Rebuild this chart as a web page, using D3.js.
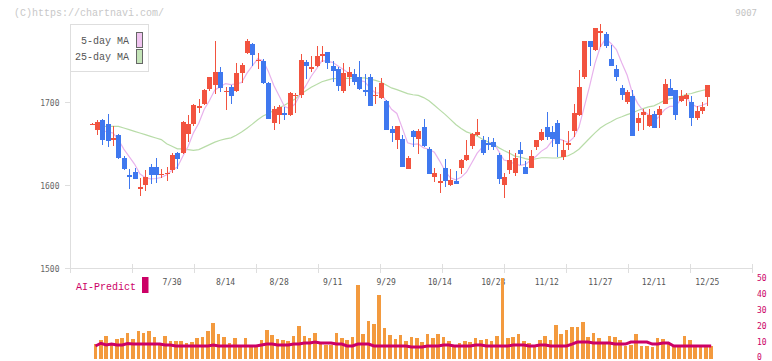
<!DOCTYPE html>
<html>
<head>
<meta charset="utf-8">
<script src="https://cdn.jsdelivr.net/npm/d3@7/dist/d3.min.js"></script>
<style>
  html, body { margin: 0; padding: 0; background: #fff; }
  svg { display: block; font-family: "Liberation Mono", "DejaVu Sans Mono", monospace; }
  .small { font-family: "DejaVu Sans Mono", monospace; font-size: 8px; }
</style>
</head>
<body>
<svg id="chart" width="772" height="361"></svg>
<script>
// daily candles, oldest first (label every 10th session from the end)
const tickLabels = ['7/30', '8/14', '8/28', '9/11', '9/29', '10/14', '10/28', '11/12', '11/27', '12/11', '12/25'];
const tickIndex = [15, 25, 35, 45, 55, 65, 75, 85, 95, 105, 115];

const open = [1673.5,1667,1679,1674,1655,1661,1633,1613,1616,1596,1600,1622,1622,1613,1614,1618,1639,1639,1662,1674,
  1694,1698,1716,1721,1737,1713,1718,1714,1735,1759,1770,1750,1750,1723,1675,1685,1687,1685,1708,1709,
  1748,1741,1744,1756,1761,1744,1740,1714,1731,1734,1731,1715,1730,1708,1705,1702,1668,1655,1656,1620,
  1665,1656,1670,1644,1610,1604,1621,1600,1605,1621,1631,1647,1661,1655,1651,1652,1637,1600,1618,1615,
  1642,1622,1621,1646,1655,1670,1664,1675,1634,1649,1665,1685,1730,1774,1763,1783,1782,1752,1740,1717,
  1700,1708,1675,1685,1671,1686,1685,1698,1717,1715,1702,1704,1700,1681,1690,1706];
const high = [1675,1679,1680,1686,1671,1662,1635,1620,1621,1609,1618,1626,1633,1620,1622,1639,1640,1677,1685,1698,
  1704,1716,1731,1774,1743,1718,1721,1747,1747,1776,1771,1760,1752,1725,1696,1697,1694,1713,1711,1758,
  1751,1756,1768,1768,1761,1750,1743,1747,1743,1740,1750,1734,1734,1719,1729,1703,1671,1672,1661,1635,
  1667,1668,1680,1646,1621,1614,1632,1620,1617,1632,1655,1663,1680,1659,1658,1657,1639,1615,1643,1639,
  1652,1629,1643,1655,1668,1688,1671,1679,1655,1666,1698,1739,1774,1774,1790,1794,1785,1769,1745,1721,
  1715,1715,1687,1692,1692,1690,1696,1728,1728,1715,1715,1711,1708,1696,1700,1721];
const low = [1673,1661,1649,1646,1647,1632,1619,1596,1607,1587,1593,1602,1603,1609,1605,1615,1620,1638,1652,1671,
  1687,1697,1714,1710,1712,1691,1698,1712,1723,1758,1744,1740,1722,1680,1667,1674,1679,1684,1687,1705,
  1728,1736,1743,1748,1740,1725,1714,1711,1720,1721,1715,1708,1696,1698,1704,1667,1652,1644,1622,1620,
  1646,1638,1646,1614,1604,1591,1598,1599,1602,1614,1629,1644,1659,1636,1643,1642,1602,1585,1614,1611,
  1625,1614,1621,1642,1653,1655,1646,1634,1630,1642,1658,1683,1728,1744,1762,1767,1765,1744,1726,1703,
  1698,1659,1666,1667,1670,1669,1669,1698,1708,1679,1700,1696,1672,1679,1686,1695];
const close = [1674,1676,1655,1653,1657,1633,1620,1610,1608,1598,1610,1613,1612,1614,1615,1637,1632,1676,1674,1697,
  1695,1715,1730,1737,1717,1714,1708,1735,1745,1774,1757,1751,1723,1680,1692,1694,1685,1711,1709,1751,
  1744,1742,1756,1758,1747,1738,1720,1735,1737,1724,1716,1712,1696,1709,1723,1667,1663,1671,1622,1633,
  1658,1665,1647,1614,1615,1605,1605,1606,1602,1630,1636,1662,1664,1639,1649,1646,1608,1610,1631,1633,
  1638,1614,1635,1655,1664,1658,1656,1650,1643,1651,1687,1718,1774,1767,1789,1786,1768,1744,1731,1709,
  1712,1659,1681,1688,1685,1669,1692,1722,1708,1685,1708,1709,1681,1690,1694,1721];

// moving averages as drawn (null where the line is not drawn)
const ma5 = [null,null,1666,1664,1663,1654.8,1643.6,1634.6,1625.6,1613.8,1609.2,1607.8,1608.2,1609.4,1612.8,1618.2,1622,1634.8,1646.8,1663.2,
  1674.8,1691.4,1702.2,1714.8,1718.8,1722.6,1721.2,1722.2,1723.8,1735.2,1743.8,1752.4,1750,1737,1720.6,1708,1694.8,1692.4,1698.2,1710,
  1720,1731.4,1740.4,1750.2,1749.4,1748.2,1743.8,1739.6,1735.4,1730.8,1726.4,1724.8,1717,1711.4,1711.2,1701.4,1691.6,1686.6,1669.2,1651.2,
  1649.4,1649.8,1645,1643.4,1639.8,1629.2,1617.2,1609,1606.6,1609.6,1615.8,1627.2,1638.8,1646.2,1650,1652,1641.2,1630.4,1628.8,1625.6,
  1624,1625.2,1630.2,1635,1641.2,1645.2,1653.6,1656.6,1654.2,1651.6,1657.4,1669.8,1694.6,1719.4,1747,1766.8,1776.8,1770.8,1763.6,1747.6,
  1732.8,1711,1698.4,1689.8,1685,1676.4,1683,1691.2,1695.2,1695.2,1703,1706.4,1698.2,1694.6,1696.4,1699];
const ma25 = [null,null,1671,1671,1671,1671,1669,1667,1665,1663,1661,1659,1657,1655,1650,1647,1644,1644,1643,1642,
  1643,1646,1649,1652,1654.3,1655.9,1657.2,1660.4,1664.1,1668.8,1673.7,1679,1683.5,1686.4,1690.1,1693.5,1696.4,1700.3,1704.1,1709.6,
  1713.8,1718.2,1721.4,1724.8,1726.8,1728.5,1728.7,1728.9,1728.9,1729.2,1729.3,1729.4,1727.9,1726.4,1724.4,1720.8,1717.3,1715.2,1712.9,1710.5,
  1709.1,1708.3,1705.7,1701.9,1696.5,1690.9,1685.4,1679.4,1673.2,1668.5,1664.4,1662.1,1659.3,1655.4,1652.4,1649.6,1645.4,1642,1638.8,1635.2,
  1634.1,1632.1,1630.7,1632,1633.2,1633.2,1632.9,1633,1634.2,1635.6,1638.9,1643.4,1650.1,1656.7,1663.1,1669.1,1673.3,1676.5,1680.2,1682.6,
  1685.2,1687.3,1690.1,1692.4,1694.5,1695.7,1698.8,1702.3,1704.4,1705.3,1707.3,1709.4,1710.6,1712.5,1714.2,1715.6];

// AI-Predict panel (right axis 0-50)
const aiBars = [9,11.5,14,9,12,12.8,15.9,12,17,15.9,17,13.4,9,14,10.9,10.9,10.9,9.7,10.3,12.8,
  13.4,17,22,15.3,13.4,9.7,12.8,8,12.8,8,8,11.5,17.8,14.6,12,11.5,10.9,14,20.3,14,
  12.8,15.9,9,8.4,8.4,15.9,12.8,11.5,13.4,45.8,15.3,23.4,21.5,39.8,19,14.6,12,14.6,10.9,13.4,
  12.8,10.3,15.3,12.8,15.3,13.4,10.9,8,9.7,10.9,10.3,12.8,11.5,12,10.9,14,50,12.8,13.4,15.3,
  10.9,9.7,8,11.5,14,11.5,20.9,15.3,17.8,19.7,19.7,22.8,13.4,15.9,12.8,10.3,14,13.4,11.5,8,
  8.4,15.3,8,8,7.2,12.8,12,10.3,8,8,14,11.5,8,8,8,8];
const aiLine = [7.8,9.5,8.4,9,8.4,8.4,9.3,9,9,9,9,9,9,8.4,8.4,7.8,7.8,7.8,7.8,7.8,
  7.8,7.8,8.4,7.8,7.8,7.8,7.8,7.8,7.8,7.8,7.8,8.4,9,9,8.4,8.4,8.4,9,9,9.7,
  9.7,10.3,9.7,9.7,9.7,9,9,7.8,7.8,9,9,9,7.8,7.8,7.8,7.8,7.8,7.8,7.8,7.2,
  7.2,7.2,7.8,7.8,7.8,8.4,8.4,7.8,7.8,7.8,7.8,8.4,8.4,7.8,7.8,7.8,7.8,7.8,8.4,8.4,
  8.4,7.8,7.8,8.4,8.4,7.8,7.8,7.8,7.8,9,10.3,10.3,10.3,9.7,9.7,9.7,9.7,9,9,9,
  10.3,10.3,10.3,10.3,9,9,9.7,9.7,7.8,7.8,7.8,7.8,7.8,7.8,7.8,7.8];
const aiTicks = [0, 10, 20, 30, 40, 50];
const priceTicks = [1500, 1600, 1700];

const UP = '#f2533f';
const DOWN = '#3f78ef';
const AXIS = '#dedede';
const MAGENTA = '#cc0066';

const svg = d3.select('#chart');
const n = close.length;
const idx = d3.range(n);

const x = d3.scaleLinear().domain([0, n - 1]).range([91.7, 707.4]);
const y = d3.scaleLinear().domain([1500, 1700]).range([268.3, 102.3]);
const yAi = d3.scaleLinear().domain([0, 50]).range([358.5, 278.3]);

// header texts
svg.append('text').attr('x', 14).attr('y', 16).attr('font-size', 10).attr('fill', '#c8c8c8')
  .text('(C)https://chartnavi.com/');
svg.append('text').attr('x', 757).attr('y', 15.5).attr('font-size', 9).attr('fill', '#c4c4c4')
  .style('font-family', '"DejaVu Sans Mono", monospace')
  .attr('text-anchor', 'end').text('9007');

// axes
const axisG = svg.append('g').attr('shape-rendering', 'crispEdges');
axisG.append('line').attr('x1', 70.5).attr('x2', 70.5).attr('y1', 24).attr('y2', 268.5)
  .attr('stroke', AXIS);
axisG.append('line').attr('x1', 70).attr('x2', 752.5).attr('y1', 268.5).attr('y2', 268.5)
  .attr('stroke', AXIS);
d3.range(70, 753, 62).forEach((tx) => {
  axisG.append('line').attr('x1', tx + 0.5).attr('x2', tx + 0.5).attr('y1', 264).attr('y2', 273)
    .attr('stroke', AXIS);
});
priceTicks.forEach((p) => {
  const ty = Math.round(y(p)) + 0.5;
  axisG.append('line').attr('x1', 65).attr('x2', 70).attr('y1', ty).attr('y2', ty).attr('stroke', AXIS);
  svg.append('text').attr('class', 'small').attr('x', 59.5).attr('y', ty + 3).attr('fill', '#666')
    .attr('text-anchor', 'end').text(p);
});

// date labels (drawn before the AI bars, which cover them)
tickLabels.forEach((label, k) => {
  svg.append('text').attr('class', 'small').attr('x', x(tickIndex[k])).attr('y', 285)
    .attr('fill', '#555').attr('text-anchor', 'middle').text(label);
});

// AI-Predict panel
svg.append('text').attr('x', 76).attr('y', 289.5).attr('font-size', 10).attr('fill', MAGENTA)
  .text('AI-Predict');
svg.append('rect').attr('x', 142).attr('y', 277).attr('width', 6.5).attr('height', 16).attr('fill', MAGENTA);
aiTicks.forEach((t) => {
  svg.append('text').attr('class', 'small').attr('x', 757).attr('y', Math.min(yAi(t) + 3, 359.5))
    .attr('fill', MAGENTA).text(t);
});
svg.append('g').attr('shape-rendering', 'crispEdges')
  .selectAll('rect').data(idx).join('rect')
  .attr('x', (i) => x(i) + 2)
  .attr('width', 3.6)
  .attr('y', (i) => yAi(aiBars[i]))
  .attr('height', (i) => yAi(0) - yAi(aiBars[i]))
  .attr('fill', '#f39a3e');
svg.append('path').datum(idx)
  .attr('fill', 'none').attr('stroke', MAGENTA).attr('stroke-width', 3)
  .attr('d', d3.line().x((i) => x(i) + 3.8).y((i) => yAi(aiLine[i])));

// moving averages
const maLine = (arr) => d3.line().defined((i) => arr[i] != null).x((i) => x(i)).y((i) => y(arr[i]));
svg.append('path').datum(idx).attr('fill', 'none').attr('stroke', '#b8dca8').attr('stroke-width', 1.2)
  .attr('d', maLine(ma25));
svg.append('path').datum(idx).attr('fill', 'none').attr('stroke', '#e8b2ec').attr('stroke-width', 1.2)
  .attr('d', maLine(ma5));

// candles
const candles = svg.append('g').attr('shape-rendering', 'crispEdges')
  .selectAll('g').data(idx).join('g');
const colorOf = (i) => (close[i] >= open[i] ? UP : DOWN);
candles.append('line')
  .attr('x1', (i) => Math.round(x(i)) + 0.5).attr('x2', (i) => Math.round(x(i)) + 0.5)
  .attr('y1', (i) => y(high[i])).attr('y2', (i) => y(low[i]))
  .attr('stroke', colorOf);
candles.append('rect')
  .attr('x', (i) => Math.round(x(i)) - 2)
  .attr('width', 5)
  .attr('y', (i) => y(Math.max(open[i], close[i])))
  .attr('height', (i) => Math.max(1.5, Math.abs(y(open[i]) - y(close[i]))))
  .attr('fill', colorOf);

// legend
const leg = svg.append('g');
leg.append('rect').attr('x', 70.5).attr('y', 24.5).attr('width', 78).attr('height', 47)
  .attr('fill', '#fff').attr('stroke', AXIS).attr('shape-rendering', 'crispEdges');
[['5-day MA', '#f0c4f0', 40], ['25-day MA', '#c4e4b8', 56.5]].forEach(([label, col, cy]) => {
  leg.append('text').attr('x', 129).attr('y', cy + 3.5).attr('font-size', 10).attr('fill', '#555')
    .attr('text-anchor', 'end').text(label);
  leg.append('rect').attr('x', 136.5).attr('y', cy - 7.5).attr('width', 6).attr('height', 14.5)
    .attr('fill', col).attr('stroke', '#666').attr('shape-rendering', 'crispEdges');
});
</script>
</body>
</html>
